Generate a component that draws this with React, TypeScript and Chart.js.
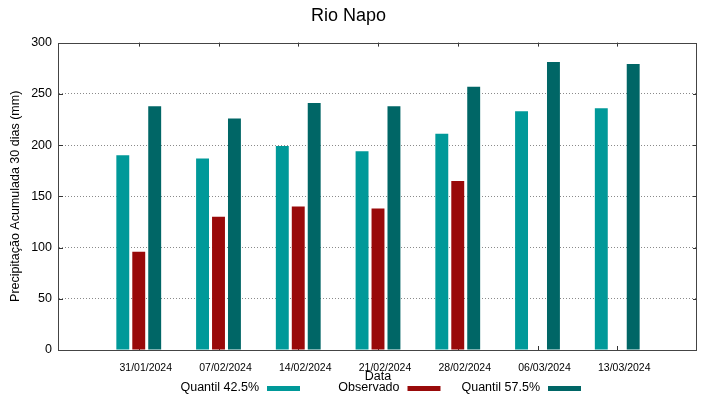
import React, { useEffect, useRef } from 'react';
import { Chart, registerables } from 'chart.js';

Chart.register(...registerables);

const chartTitle = 'Rio Napo';
const yAxisTitle = 'Precipitação Acumulada 30 dias (mm)';
const xAxisTitle = 'Data';
const dates = ['31/01/2024', '07/02/2024', '14/02/2024', '21/02/2024', '28/02/2024', '06/03/2024', '13/03/2024'];
const seriesLabels = ['Quantil 42.5%', 'Observado', 'Quantil 57.5%'];
const quantil425 = [190, 187, 199, 194, 211, 233, 236];
const observado = [96, 130, 140, 138, 165];
const quantil575 = [238, 226, 241, 238, 257, 281, 279];
const yTickValues = [0, 50, 100, 150, 200, 250, 300];

const colors = ['#009999', '#990a0a', '#006666'];
const FONT = "'Liberation Sans', Arial, sans-serif";

const gnuplotPlugin = {
  id: 'gnuplotStyle',
  beforeDatasetsDraw(chart: any) {
    const { ctx, chartArea, scales } = chart;
    const { left, right, top, bottom } = chartArea;
    ctx.save();
    ctx.strokeStyle = '#333';
    ctx.lineWidth = 1;
    ctx.beginPath();
    yTickValues.forEach((v) => {
      const y = Math.round(scales.y.getPixelForValue(v)) + 0.5;
      ctx.moveTo(left, y); ctx.lineTo(left + 4, y);
      ctx.moveTo(right - 4, y); ctx.lineTo(right, y);
    });
    dates.forEach((_, i) => {
      const x = Math.round(scales.x.getPixelForValue(i + 1)) + 0.5;
      ctx.moveTo(x, bottom); ctx.lineTo(x, bottom - 4);
      ctx.moveTo(x, top); ctx.lineTo(x, top + 4);
    });
    ctx.stroke();
    ctx.restore();
  },
  afterDatasetsDraw(chart: any) {
    const { ctx, chartArea } = chart;
    const { left, right, top, bottom } = chartArea;
    ctx.save();
    ctx.strokeStyle = '#444';
    ctx.lineWidth = 1;
    ctx.strokeRect(Math.round(left) - 0.5, Math.round(top) + 0.5, Math.round(right - left), Math.round(bottom - top));
    ctx.restore();
  },
  afterDraw(chart: any) {
    const { ctx, chartArea } = chart;
    const cx = (chartArea.left + chartArea.right) / 2;
    const y = 388;
    ctx.save();
    ctx.font = `12.5px ${FONT}`;
    ctx.textAlign = 'right';
    ctx.textBaseline = 'middle';
    chart.data.datasets.forEach((ds: any, i: number) => {
      const xEnd = cx - 119 + i * 140.5;
      ctx.fillStyle = '#000';
      ctx.fillText(ds.label, xEnd, y);
      ctx.fillStyle = ds.backgroundColor;
      ctx.fillRect(xEnd + 8, y - 2, 33, 5);
    });
    ctx.restore();
  },
};

export default function App() {
  const canvasRef = useRef<HTMLCanvasElement | null>(null);

  useEffect(() => {
    document.body.style.margin = '0';
    const canvas = canvasRef.current;
    if (!canvas) return;
    const series = [quantil425, observado, quantil575];
    const chart = new Chart(canvas, {
      type: 'bar',
      data: {
        datasets: series.map((vals, k) => ({
          label: seriesLabels[k],
          data: vals.map((v, i) => ({ x: i + 1, y: v })),
          backgroundColor: colors[k],
          borderWidth: 0,
          categoryPercentage: 0.6,
          barPercentage: 0.81,
        })),
      },
      options: {
        responsive: false,
        animation: false,
        devicePixelRatio: 1,
        layout: { padding: { left: 0, right: 22, top: 0, bottom: 0 } },
        plugins: {
          legend: { display: false },
          tooltip: { enabled: false },
          title: {
            display: true,
            text: chartTitle,
            color: '#000',
            font: { family: FONT, size: 18, weight: 'normal' },
            padding: { top: 5, bottom: 16 },
          },
        },
        scales: {
          x: {
            type: 'linear',
            offset: false,
            min: 0,
            max: dates.length + 1,
            grid: { display: false, drawTicks: false, offset: false },
            border: { display: false },
            ticks: {
              stepSize: 1,
              autoSkip: false,
              maxRotation: 0,
              padding: 11.5,
              labelOffset: 7,
              color: '#000',
              font: { family: FONT, size: 10.5 },
              callback: (v: any) => dates[Number(v) - 1] ?? '',
            },
            title: {
              display: true,
              text: xAxisTitle,
              color: '#000',
              font: { family: FONT, size: 12.5 },
              padding: { top: 0, bottom: 14.5 },
            },
            afterFit: (s: any) => { s.height = 49; },
          },
          y: {
            min: 0,
            max: 300,
            grid: {
              drawTicks: false,
              color: (c: any) => (c.tick && (c.tick.value === 0 || c.tick.value === 300) ? 'rgba(0,0,0,0)' : '#8a8a8a'),
              lineWidth: 1,
            },
            border: { display: false, dash: [1, 2] },
            ticks: {
              stepSize: 50,
              padding: 7,
              color: '#000',
              font: { family: FONT, size: 12.5 },
            },
            title: {
              display: true,
              text: yAxisTitle,
              color: '#000',
              font: { family: FONT, size: 12.5 },
              padding: { top: 8.5, bottom: 0 },
            },
            afterFit: (s: any) => { s.width = 59; },
          },
        },
      },
      plugins: [gnuplotPlugin],
    });
    return () => chart.destroy();
  }, []);

  return (
    <div style={{ width: 719, height: 399 }}>
      <canvas ref={canvasRef} width={719} height={399} style={{ display: 'block' }} />
    </div>
  );
}
